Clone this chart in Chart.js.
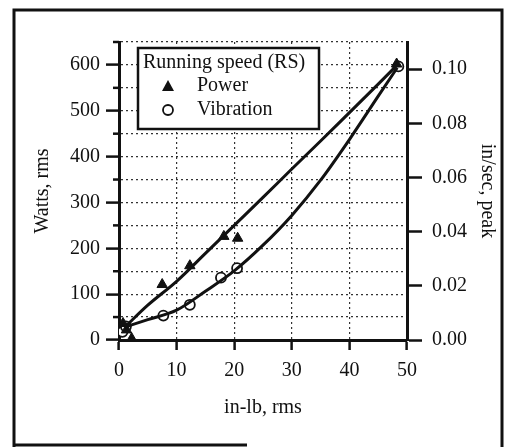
<!DOCTYPE html>
<html>
<head>
<meta charset="utf-8">
<script src="https://cdn.jsdelivr.net/npm/chart.js@4/dist/chart.umd.min.js"></script>
<style>
  body { margin: 0; background: #fff; }
  canvas { display: block; }
</style>
</head>
<body>
<canvas id="torqueChart" width="513" height="447"></canvas>
<script>
// measured points (in-lb rms vs Watts / in/sec)
const powerX = [0.7, 1.3, 2.2, 7.5, 12.3, 18.2, 20.6, 48.2];
const powerY = [36, 22, 3, 121, 162, 226, 222, 602];
const vibX = [0.6, 1.2, 7.7, 12.3, 17.7, 20.5, 48.5];
const vibY = [0.003, 0.005, 0.009, 0.013, 0.023, 0.0265, 0.101];

// fitted curves
const fitX = [1, 5, 10, 15, 20, 25, 30, 35, 40, 45, 48.3];
const powerFitY = [28, 76, 128, 189, 250, 311, 373, 434, 496, 558, 600];
const vibFitY = [0.0048, 0.0075, 0.011, 0.018, 0.0255, 0.035, 0.046, 0.059, 0.074, 0.09, 0.1005];

const xTicks = [0, 10, 20, 30, 40, 50];
const wattTicks = [0, 100, 200, 300, 400, 500, 600];
const speedTicks = [0.00, 0.02, 0.04, 0.06, 0.08, 0.10];

const legendTitle = 'Running speed (RS)';
const legendLabels = ['Power', 'Vibration'];

const ink = '#111';
const serif = "'Liberation Serif', 'DejaVu Serif', serif";

function pairs(xs, ys) {
        return xs.map(function(x, i) { return {x: x, y: ys[i]}; });
}

function isOn(list, v) {
        return list.some(function(t) { return Math.abs(t - v) < 1e-6; });
}

const framePlugin = {
        id: 'frame',
        beforeDraw: function(chart) {
                var c = chart.ctx;
                c.save();
                c.fillStyle = '#fff';
                c.fillRect(0, 0, chart.width, chart.height);
                c.strokeStyle = ink;
                c.lineWidth = 3;
                c.beginPath();
                c.moveTo(14, 447);
                c.lineTo(14, 10);
                c.lineTo(502, 10);
                c.lineTo(502, 447);
                c.moveTo(14, 445);
                c.lineTo(247, 445);
                c.stroke();
                c.restore();
        },
        afterDraw: function(chart) {
                var c = chart.ctx;
                var y = chart.scales.y;
                var area = chart.chartArea;
                c.save();
                // short ticks at the 50 W steps
                c.strokeStyle = ink;
                c.lineWidth = 2.5;
                for (var v = 50; v <= 650; v += 100) {
                        var py = y.getPixelForValue(v);
                        c.beginPath();
                        c.moveTo(area.left - 6, py);
                        c.lineTo(area.left, py);
                        c.stroke();
                }
                // legend box
                c.fillStyle = '#fff';
                c.fillRect(138, 48, 181, 81);
                c.lineWidth = 2.5;
                c.strokeRect(138, 48, 181, 81);
                c.fillStyle = ink;
                c.font = '20px ' + serif;
                c.textBaseline = 'middle';
                c.textAlign = 'left';
                c.fillText(legendTitle, 143, 63);
                c.fillText(legendLabels[0], 197, 86);
                c.fillText(legendLabels[1], 197, 110);
                c.beginPath();
                c.moveTo(168, 80);
                c.lineTo(174, 91);
                c.lineTo(162, 91);
                c.closePath();
                c.fill();
                c.beginPath();
                c.arc(168, 110, 5, 0, Math.PI * 2);
                c.lineWidth = 1.8;
                c.stroke();
                c.restore();
        }
};

Chart.defaults.font.family = serif;
Chart.defaults.font.size = 20;
Chart.defaults.color = ink;

var ctx = document.getElementById('torqueChart').getContext('2d');

var chart = new Chart(ctx, {
        type: 'scatter',
        data: {
                datasets: [{
                        label: 'Power fit',
                        data: pairs(fitX, powerFitY),
                        yAxisID: 'y',
                        showLine: true,
                        borderColor: ink,
                        borderWidth: 3,
                        pointRadius: 0,
                        cubicInterpolationMode: 'monotone'
                }, {
                        label: 'Vibration fit',
                        data: pairs(fitX, vibFitY),
                        yAxisID: 'y1',
                        showLine: true,
                        borderColor: ink,
                        borderWidth: 3,
                        pointRadius: 0,
                        cubicInterpolationMode: 'monotone'
                }, {
                        label: legendLabels[0],
                        data: pairs(powerX, powerY),
                        yAxisID: 'y',
                        pointStyle: 'triangle',
                        pointRadius: 6,
                        backgroundColor: ink,
                        borderColor: ink,
                        borderWidth: 1
                }, {
                        label: legendLabels[1],
                        data: pairs(vibX, vibY),
                        yAxisID: 'y1',
                        pointStyle: 'circle',
                        pointRadius: 5,
                        backgroundColor: '#fff',
                        borderColor: ink,
                        borderWidth: 1.8
                }]
        },
        options: {
                responsive: false,
                animation: false,
                layout: { padding: { top: 42, left: 0, right: 0, bottom: 0 } },
                plugins: {
                        legend: { display: false },
                        tooltip: { enabled: false }
                },
                scales: {
                        x: {
                                type: 'linear',
                                position: 'bottom',
                                min: 0,
                                max: 50,
                                afterFit: function(s) { s.height = 107; },
                                ticks: { stepSize: 10, padding: 9, maxRotation: 0, autoSkip: false,
                                        callback: function(v) { return isOn(xTicks, v) ? String(v) : ''; } },
                                grid: { color: '#333', lineWidth: 1.2, tickLength: 10, tickColor: ink, tickWidth: 2.5 },
                                border: { color: ink, width: 3, dash: [2, 3] },
                                title: { display: true, text: 'in-lb, rms', padding: { top: 4, bottom: 27 } }
                        },
                        y: {
                                position: 'left',
                                min: 0,
                                max: 650,
                                afterFit: function(s) { s.width = 119; },
                                ticks: { stepSize: 50, padding: 6, autoSkip: false,
                                        callback: function(v) { return isOn(wattTicks, v) ? String(v) : ''; } },
                                grid: { color: '#333', lineWidth: 1.2, tickLength: 13, tickWidth: 2.5,
                                        tickColor: function(c) { return c.tick && isOn(wattTicks, c.tick.value) ? ink : 'rgba(0,0,0,0)'; } },
                                border: { color: ink, width: 3, dash: [2, 3] },
                                title: { display: true, text: 'Watts, rms', padding: { top: 31, bottom: 4 } }
                        },
                        y1: {
                                position: 'right',
                                min: 0,
                                max: 0.11,
                                afterFit: function(s) { s.width = 106; },
                                ticks: { stepSize: 0.02, padding: 10, autoSkip: false,
                                        callback: function(v) { return isOn(speedTicks, v) ? v.toFixed(2) : ''; } },
                                grid: { drawOnChartArea: false, tickLength: 15, tickWidth: 2.5,
                                        tickColor: function(c) { return c.tick && isOn(speedTicks, c.tick.value) ? ink : 'rgba(0,0,0,0)'; } },
                                border: { color: ink, width: 3 },
                                title: { display: true, text: 'in/sec, peak', padding: { top: 14, bottom: 4 } }
                        }
                }
        },
        plugins: [framePlugin]
});
</script>
</body>
</html>
